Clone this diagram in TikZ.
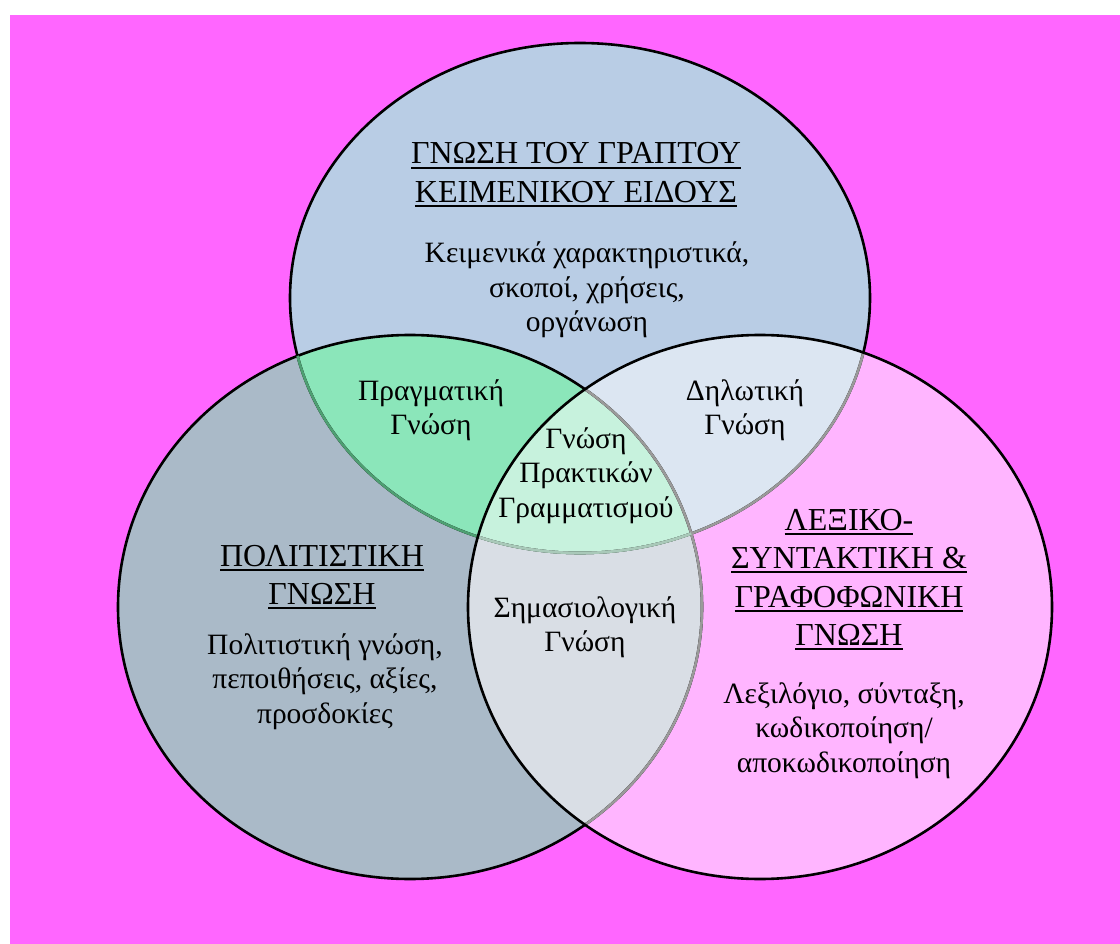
\documentclass[tikz,border=0pt]{standalone}
\usepackage{fontspec}
\setmainfont{Liberation Serif}

% fills and edges
\definecolor{bgmag}{HTML}{FF66FF}
\definecolor{topc}{HTML}{B9CDE5}
\definecolor{leftc}{HTML}{AABAC8}
\definecolor{rightc}{HTML}{FFB5FF}
\definecolor{tlc}{HTML}{8BE6BA}
\definecolor{trc}{HTML}{DCE6F2}
\definecolor{lrc}{HTML}{D9DEE5}
\definecolor{allc}{HTML}{C7F2DD}
\definecolor{edgegreen}{HTML}{4E9F72}
\definecolor{edgegrey}{HTML}{9A9A9A}
\definecolor{edgepale}{HTML}{A9C9B9}

% one underlined line of a heading
\newcommand\ulline[1]{\vtop{\hbox{#1}\kern2.6pt\hrule height 1.6pt}}
\newcommand\titlesize{\fontsize{32}{38.5}\selectfont}
\newcommand\bodysize{\fontsize{29.5}{34.5}\selectfont}
% centred block whose baseline is that of its first line
\newcommand\blocktext[1]{\begin{tabular}[t]{@{}c@{}}#1\end{tabular}}

% the three sets
\def\topE{(580,298) ellipse [x radius=290pt, y radius=255pt]}
\def\leftE{(410,607) ellipse [x radius=292pt, y radius=272pt]}
\def\rightE{(760,607) ellipse [x radius=292pt, y radius=272pt]}

\begin{document}
\begin{tikzpicture}[x=1pt,y=-1pt,
  edge/.style={line width=2.6pt},
  titletext/.style={font=\titlesize, inner sep=0pt, anchor=base},
  bodytext/.style={font=\bodysize, inner sep=0pt, anchor=base}]
\useasboundingbox (0,0) rectangle (1120,944);
\fill[white] (0,0) rectangle (1120,944);
\fill[bgmag] (10,15) rectangle (1120,944);

% region fills
\fill[leftc] \leftE;
\fill[rightc] \rightE;
\fill[topc] \topE;
\begin{scope}
  \clip \topE;
  \fill[tlc] \leftE;
  \fill[trc] \rightE;
\end{scope}
\begin{scope}
  \clip \leftE;
  \fill[lrc] \rightE;
\end{scope}
\begin{scope}
  \clip \topE;
  \clip \leftE;
  \fill[allc] \rightE;
\end{scope}

% outlines
\draw[edge] \leftE;
\draw[edge] \topE;
\begin{scope}
  \clip \leftE;
  \draw[edge, edgegreen] \topE;
\end{scope}
\begin{scope}
  \clip \rightE;
  \draw[edge, edgegrey] \topE;
  \draw[edge, edgegrey] \leftE;
\end{scope}
\begin{scope}
  \clip \leftE;
  \clip \rightE;
  \draw[edge, edgepale] \topE;
\end{scope}
\draw[edge] \rightE;

% headings
\node[titletext] (toptitle) at (576,164)
  {\blocktext{\ulline{ΓΝΩΣΗ ΤΟΥ ΓΡΑΠΤΟΥ}\\\ulline{ΚΕΙΜΕΝΙΚΟΥ ΕΙΔΟΥΣ}}};
\node[titletext] (lefttitle) at (322,566)
  {\blocktext{\ulline{ΠΟΛΙΤΙΣΤΙΚΗ}\\\ulline{ΓΝΩΣΗ}}};
\node[titletext] (righttitle) at (849,530)
  {\blocktext{\ulline{ΛΕΞΙΚΟ-}\\\ulline{ΣΥΝΤΑΚΤΙΚΗ \&}\\\ulline{ΓΡΑΦΟΦΩΝΙΚΗ}\\\ulline{ΓΝΩΣΗ}}};

% descriptions
\node[bodytext] (topbody) at (587,263)
  {\blocktext{Κειμενικά χαρακτηριστικά,\\σκοποί, χρήσεις,\\οργάνωση}};
\node[bodytext] (leftbody) at (325,654)
  {\blocktext{Πολιτιστική γνώση,\\πεποιθήσεις, αξίες,\\προσδοκίες}};
\node[bodytext] (rightbody) at (844,703)
  {\blocktext{Λεξιλόγιο, σύνταξη,\\κωδικοποίηση/\\αποκωδικοποίηση}};

% overlaps
\node[bodytext] (pragmatic) at (431,400) {\blocktext{Πραγματική\\Γνώση}};
\node[bodytext] (declarative) at (745,400) {\blocktext{Δηλωτική\\Γνώση}};
\node[bodytext] (semantic) at (585,617) {\blocktext{Σημασιολογική\\Γνώση}};
\node[bodytext] (literacy) at (586,448) {\blocktext{Γνώση\\Πρακτικών\\Γραμματισμού}};
\end{tikzpicture}
\end{document}
